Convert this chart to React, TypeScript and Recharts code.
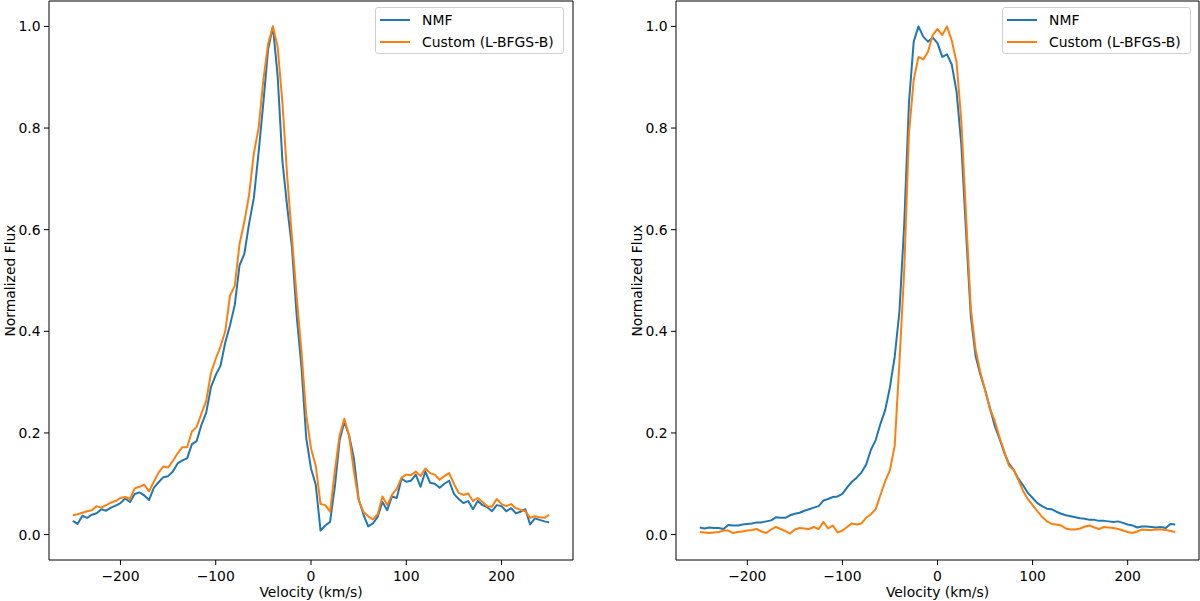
import React from 'react';
import { LineChart, Line, XAxis, YAxis, ReferenceArea } from 'recharts';

// ---------- data ----------
const velocity: number[] = [
  -250, -245, -240, -235, -230, -225, -220, -215, -210, -205,
  -200, -195, -190, -185, -180, -175, -170, -165, -160, -155,
  -150, -145, -140, -135, -130, -125, -120, -115, -110, -105,
  -100, -95, -90, -85, -80, -75, -70, -65, -60, -55,
  -50, -45, -40, -35, -30, -25, -20, -15, -10, -5,
  0,
  5, 10, 15, 20, 25, 30, 35, 40, 45, 50,
  55, 60, 65, 70, 75, 80, 85, 90, 95, 100,
  105, 110, 115, 120, 125, 130, 135, 140, 145, 150,
  155, 160, 165, 170, 175, 180, 185, 190, 195, 200,
  205, 210, 215, 220, 225, 230, 235, 240, 245, 250,
];

const leftNmf: number[] = [
  0.027, 0.021, 0.037, 0.033, 0.039, 0.042, 0.050, 0.047, 0.053, 0.057,
  0.062, 0.071, 0.064, 0.080, 0.083, 0.077, 0.068, 0.092, 0.103, 0.113,
  0.115, 0.124, 0.140, 0.146, 0.150, 0.178, 0.184, 0.216, 0.240, 0.290,
  0.314, 0.332, 0.378, 0.412, 0.452, 0.530, 0.552, 0.612, 0.662, 0.752,
  0.850, 0.955, 1.000, 0.902, 0.735, 0.645, 0.565, 0.430, 0.330, 0.190,
  0.130,
  0.098, 0.008, 0.018, 0.025, 0.094, 0.185, 0.222, 0.195, 0.150, 0.070,
  0.040, 0.016, 0.022, 0.035, 0.064, 0.048, 0.075, 0.072, 0.110, 0.104,
  0.106, 0.118, 0.094, 0.124, 0.102, 0.100, 0.092, 0.100, 0.106, 0.080,
  0.070, 0.062, 0.066, 0.050, 0.066, 0.058, 0.054, 0.046, 0.058, 0.056,
  0.046, 0.052, 0.042, 0.045, 0.050, 0.020, 0.032, 0.029, 0.026, 0.024,
];

const leftCustom: number[] = [
  0.038, 0.040, 0.043, 0.046, 0.048, 0.056, 0.053, 0.058, 0.063, 0.066,
  0.072, 0.074, 0.070, 0.091, 0.094, 0.098, 0.085, 0.104, 0.122, 0.134,
  0.132, 0.145, 0.160, 0.172, 0.172, 0.203, 0.212, 0.238, 0.263, 0.318,
  0.346, 0.370, 0.400, 0.470, 0.490, 0.572, 0.615, 0.668, 0.750, 0.800,
  0.895, 0.966, 1.000, 0.960, 0.850, 0.705, 0.585, 0.467, 0.360, 0.235,
  0.170,
  0.135, 0.060, 0.058, 0.045, 0.125, 0.195, 0.228, 0.195, 0.125, 0.068,
  0.045, 0.036, 0.030, 0.040, 0.075, 0.058, 0.078, 0.090, 0.112, 0.118,
  0.117, 0.124, 0.115, 0.130, 0.121, 0.118, 0.108, 0.115, 0.121, 0.100,
  0.082, 0.078, 0.081, 0.066, 0.072, 0.064, 0.056, 0.055, 0.070, 0.060,
  0.056, 0.060, 0.052, 0.049, 0.046, 0.033, 0.036, 0.034, 0.033, 0.039,
];

const rightNmf: number[] = [
  0.014, 0.012, 0.014, 0.013, 0.013, 0.011, 0.019, 0.018, 0.018, 0.020,
  0.021, 0.022, 0.024, 0.024, 0.026, 0.028, 0.034, 0.033, 0.033, 0.038,
  0.041, 0.043, 0.047, 0.050, 0.053, 0.056, 0.067, 0.070, 0.074, 0.075,
  0.080, 0.093, 0.104, 0.112, 0.122, 0.138, 0.167, 0.186, 0.218, 0.245,
  0.290, 0.350, 0.440, 0.610, 0.850, 0.970, 1.000, 0.980, 0.970, 0.978,
  0.967,
  0.940, 0.945, 0.925, 0.872, 0.769, 0.596, 0.430, 0.352, 0.315, 0.285,
  0.250, 0.215, 0.190, 0.162, 0.140, 0.128, 0.110, 0.097, 0.082, 0.072,
  0.062, 0.056, 0.051, 0.050, 0.045, 0.041, 0.038, 0.036, 0.034, 0.032,
  0.031, 0.029, 0.029, 0.027, 0.027, 0.026, 0.025, 0.026, 0.023, 0.020,
  0.018, 0.014, 0.016, 0.016, 0.015, 0.014, 0.015, 0.013, 0.021, 0.020,
];

const rightCustom: number[] = [
  0.005, 0.004, 0.003, 0.004, 0.005, 0.008, 0.008, 0.003, 0.005, 0.006,
  0.008, 0.009, 0.011, 0.006, 0.003, 0.010, 0.015, 0.011, 0.007, 0.002,
  0.010, 0.013, 0.012, 0.011, 0.015, 0.011, 0.025, 0.012, 0.018, 0.004,
  0.008, 0.015, 0.022, 0.020, 0.022, 0.033, 0.040, 0.050, 0.078, 0.105,
  0.127, 0.175, 0.340, 0.520, 0.790, 0.895, 0.940, 0.935, 0.950, 0.983,
  0.995,
  0.983, 1.000, 0.972, 0.930, 0.815, 0.630, 0.445, 0.365, 0.320, 0.285,
  0.248, 0.225, 0.193, 0.165, 0.136, 0.127, 0.108, 0.086, 0.070, 0.058,
  0.046, 0.035, 0.026, 0.021, 0.020, 0.018, 0.012, 0.010, 0.010, 0.012,
  0.016, 0.018, 0.014, 0.011, 0.015, 0.014, 0.013, 0.011, 0.008, 0.005,
  0.003, 0.006, 0.010, 0.009, 0.009, 0.010, 0.010, 0.009, 0.007, 0.005,
];

const xTicks: number[] = [-200, -100, 0, 100, 200];
const yTicks: number[] = [0, 0.2, 0.4, 0.6, 0.8, 1.0];
const seriesNames = { nmf: 'NMF', custom: 'Custom (L-BFGS-B)' };
const xTitle = 'Velocity (km/s)';
const yTitle = 'Normalized Flux';

// ---------- styling ----------
const NMF_COLOR = '#1f77b4';
const CUSTOM_COLOR = '#ff7f0e';
const FONT = "'DejaVu Sans', sans-serif";
const FS = 13.9;
const X_DOMAIN: [number, number] = [-275, 275];
const Y_DOMAIN: [number, number] = [-0.05, 1.05];

const buildRows = (nmf: number[], custom: number[]) =>
  velocity.map((v, i) => ({ v, nmf: nmf[i], custom: custom[i] }));

const leftRows = buildRows(leftNmf, leftCustom);
const rightRows = buildRows(rightNmf, rightCustom);

const fmtX = (t: number) => (t < 0 ? '\u2212' + Math.abs(t) : String(t));
const fmtY = (t: number) => t.toFixed(1);

const PLOT_TOP = 1;
const PLOT_H = 559;

function makeYTitle(cx: number) {
  return () => {
    const cy = PLOT_TOP + PLOT_H / 2;
    return (
      <text
        x={cx}
        y={cy}
        transform={`rotate(-90, ${cx}, ${cy})`}
        textAnchor="middle"
        dominantBaseline="central"
        fontSize={FS}
        fontFamily={FONT}
        fill="#000"
      >
        {yTitle}
      </text>
    );
  };
}

type PanelProps = {
  rows: { v: number; nmf: number; custom: number }[];
  width: number;
  yAxisWidth: number;
  rightMargin: number;
};

function Panel({ rows, width, yAxisWidth, rightMargin }: PanelProps) {
  return (
    <LineChart
      width={width}
      height={601}
      data={rows}
      margin={{ top: PLOT_TOP, right: rightMargin, bottom: 0, left: 0 }}
    >
      <XAxis
        dataKey="v"
        type="number"
        domain={X_DOMAIN}
        ticks={xTicks}
        interval={0}
        allowDataOverflow
        tickFormatter={fmtX}
        axisLine={false}
        tickLine={{ stroke: '#000', strokeWidth: 1 }}
        tickSize={5}
        tickMargin={6}
        height={41}
        tick={{ fill: '#000', fontSize: FS, fontFamily: FONT }}
        label={{
          value: xTitle,
          position: 'insideBottom',
          offset: 4,
          fill: '#000',
          fontSize: FS,
          fontFamily: FONT,
        }}
      />
      <YAxis
        type="number"
        domain={Y_DOMAIN}
        ticks={yTicks}
        interval={0}
        allowDataOverflow
        tickFormatter={fmtY}
        axisLine={false}
        tickLine={{ stroke: '#000', strokeWidth: 1 }}
        tickSize={5}
        tickMargin={3.5}
        width={yAxisWidth}
        tick={{ fill: '#000', fontSize: FS, fontFamily: FONT }}
        label={{ value: yTitle, content: makeYTitle(yAxisWidth - 39.5) }}
      />
      <ReferenceArea
        x1={X_DOMAIN[0]}
        x2={X_DOMAIN[1]}
        y1={Y_DOMAIN[0]}
        y2={Y_DOMAIN[1]}
        fill="none"
        fillOpacity={0}
        stroke="#000"
        strokeWidth={1}
        ifOverflow="visible"
      />
      <Line
        type="linear"
        dataKey="nmf"
        name={seriesNames.nmf}
        stroke={NMF_COLOR}
        strokeWidth={2}
        strokeLinejoin="round"
        dot={false}
        activeDot={false}
        isAnimationActive={false}
      />
      <Line
        type="linear"
        dataKey="custom"
        name={seriesNames.custom}
        stroke={CUSTOM_COLOR}
        strokeWidth={2}
        strokeLinejoin="round"
        dot={false}
        activeDot={false}
        isAnimationActive={false}
      />
    </LineChart>
  );
}

function LegendBox({ left }: { left: number }) {
  const entries = [
    { name: seriesNames.nmf, color: NMF_COLOR },
    { name: seriesNames.custom, color: CUSTOM_COLOR },
  ];
  return (
    <div
      style={{
        position: 'absolute',
        left,
        top: 7,
        width: 189,
        height: 47,
        boxSizing: 'border-box',
        border: '1px solid #d0d0d0',
        borderRadius: 3,
        background: 'rgba(255,255,255,0.8)',
        fontFamily: FONT,
        fontSize: FS,
        color: '#000',
      }}
    >
      {entries.map((e, i) => (
        <div
          key={e.name}
          style={{ position: 'absolute', left: 0, top: 12 + i * 21.7, width: '100%', height: 0 }}
        >
          <div
            style={{
              position: 'absolute',
              left: 4,
              top: -1,
              width: 30,
              height: 2,
              background: e.color,
            }}
          />
          <div
            style={{
              position: 'absolute',
              left: 46,
              top: -9,
              lineHeight: '18px',
              whiteSpace: 'nowrap',
            }}
          >
            {e.name}
          </div>
        </div>
      ))}
    </div>
  );
}

export default function App() {
  return (
    <div
      style={{
        position: 'absolute',
        left: 0,
        top: 0,
        width: 1200,
        height: 601,
        background: '#fff',
        overflow: 'hidden',
      }}
    >
      <div style={{ position: 'absolute', left: 0, top: 0 }}>
        <Panel rows={leftRows} width={600} yAxisWidth={49} rightMargin={27} />
      </div>
      <div style={{ position: 'absolute', left: 600, top: 0 }}>
        <Panel rows={rightRows} width={600} yAxisWidth={76} rightMargin={1} />
      </div>
      <LegendBox left={375} />
      <LegendBox left={1002} />
    </div>
  );
}
